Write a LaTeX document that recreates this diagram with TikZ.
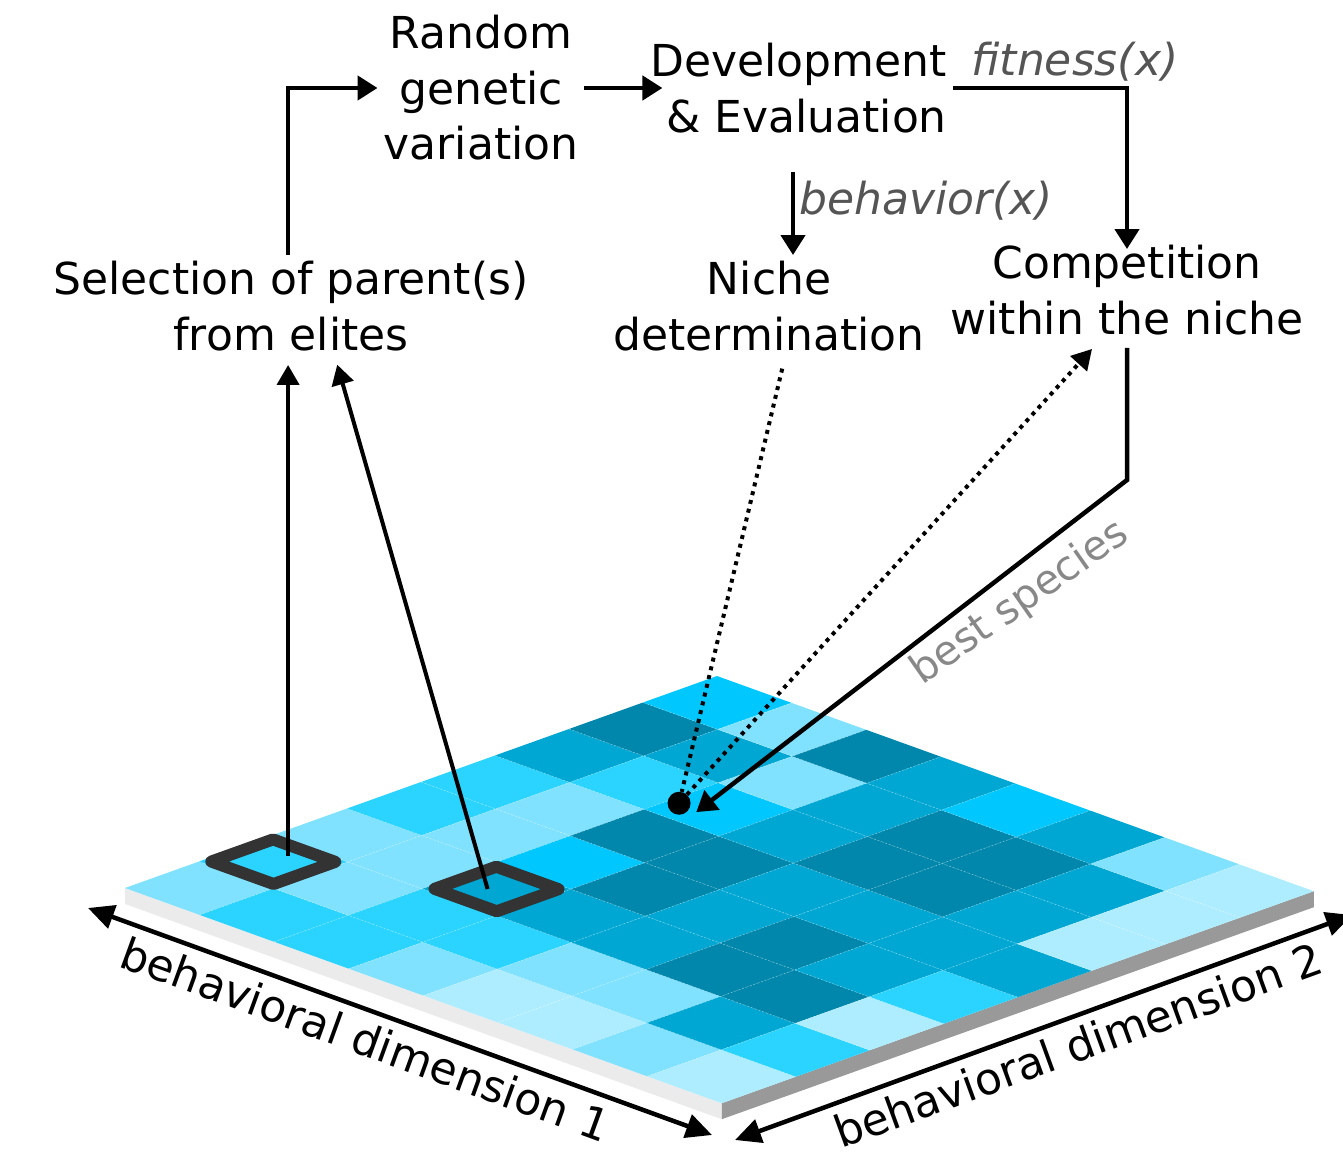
\documentclass[tikz,border=0pt]{standalone}
\usepackage{fontspec}
\setmainfont{DejaVu Sans}
\usetikzlibrary{arrows.meta}

\newcommand{\bigfont}{\fontsize{44}{55.5}\selectfont}
\definecolor{cellA}{HTML}{AEEDFF}
\definecolor{cellB}{HTML}{80E2FF}
\definecolor{cellC}{HTML}{2AD4FF}
\definecolor{cellD}{HTML}{00C8FF}
\definecolor{cellE}{HTML}{00A7D3}
\definecolor{cellF}{HTML}{0087AB}
\definecolor{labelgrey}{HTML}{555555}
\definecolor{bestgrey}{HTML}{888888}
\definecolor{boxgrey}{HTML}{333333}
\definecolor{slableft}{HTML}{EBEBEB}
\definecolor{slabright}{HTML}{999999}

\begin{document}
\begin{tikzpicture}[x=1pt, y=-1pt,
txt/.style = {align=center, inner sep=6pt, font=\bigfont},
lbl/.style = {text=labelgrey, inner sep=4pt, font=\bigfont\itshape},
bestlbl/.style = {text=bestgrey, inner sep=2pt, font=\fontsize{41}{48}\selectfont},
dimlbl/.style = {sloped, below, inner sep=9pt, font=\bigfont},
flow/.style = {line width=4.5pt, -{Triangle[length=20pt,width=24pt]}},
pick/.style = {line width=4pt, -{Triangle[length=20pt,width=22pt]}},
dotline/.style = {line width=4pt, dash pattern=on 4pt off 5pt},
axis/.style = {line width=4.5pt, {Triangle[length=26pt,width=24pt]}-{Triangle[length=26pt,width=24pt]}},
dot/.style = {circle, fill=black, inner sep=0pt, minimum size=23pt},
elitebox/.style = {draw=boxgrey, line width=12pt, line join=round},
gridline/.style = {white, opacity=0.3, line width=0.7pt, dash pattern=on 2pt off 2pt}]
\useasboundingbox (0,0) rectangle (1343,1158);

% the map of elites
\begin{scope}[shift={(125,888)}, x={(74.6pt,-26.9pt)}, y={(74pt,26.5pt)}]
    \fill[slableft] (0,0) -- (8,0) -- ([yshift=-16pt]8,0) -- ([yshift=-16pt]0,0) -- cycle;
    \fill[slabright] (8,0) -- (8,8) -- ([yshift=-16pt]8,8) -- ([yshift=-16pt]8,0) -- cycle;
    \foreach \row [count=\i from 0] in {{B,C,B,C,C,E,F,D},{C,B,B,B,B,C,E,B},
        {C,C,E,D,F,D,B,F},{B,C,E,F,F,E,E,E},{A,B,E,E,E,F,F,D},
        {A,B,F,F,E,F,F,E},{B,E,F,E,E,E,E,B},{A,C,A,C,E,A,A,A}}
        \foreach \c [count=\j from 0] in \row
            \fill[cell\c] (\i,\j) -- ++(1,0) -- ++(0,1) -- ++(-1,0) -- cycle;
    \foreach \k in {1,...,7} {
        \draw[gridline] (\k,0) -- (\k,8);
        \draw[gridline] (0,\k) -- (8,\k);
    }
    \draw[elitebox] (0.0825,1.0825) -- (0.9175,1.0825) -- (0.9175,1.9175) -- (0.0825,1.9175) -- cycle;
    \draw[elitebox] (2.0825,2.0825) -- (2.9175,2.0825) -- (2.9175,2.9175) -- (2.0825,2.9175) -- cycle;
    \coordinate (pick1) at (0.49,1.71);
    \coordinate (pick2) at (2.44,2.44);
    \coordinate (hit) at (2.4,5.3);
    \node[dot] (spot) at (2.12,5.35) {};
\end{scope}

% steps
\node[txt] (rgv) at (481,88) {Random\\genetic\\variation};
\node[txt, align=right, anchor=east] (dev) at (953,88) {Development\\\& Evaluation};
\node[txt] (select) at (291,306) {Selection of parent(s)\\from elites};
\node[txt] (niche) at (769,306) {Niche\\determination};
\node[txt] (compete) at (1127,290) {Competition\\within the niche};

\draw[flow] ([xshift=-3pt]select.north) |- (rgv.west);
\draw[flow] (rgv.east) -- ([xshift=18pt]dev.west);
\draw[flow] (dev.east) -| node[lbl, above, pos=0.35] {fitness(x)} ([yshift=-10pt]compete.north);
\coordinate (behav) at (793,172);
\draw[flow] (behav) -- node[lbl, right, pos=0.34] {behavior(x)} (behav |- niche.north);

\coordinate (bend) at (1127,480);
\draw[flow] ([yshift=-7pt]compete.south) -- (bend) -- (hit);
\node[bestlbl, rotate=35] (best) at (1020,603) {best species};

\draw[dotline, shorten <=12pt] ([xshift=16pt]niche.south) -- (spot);
\draw[dotline, -{Triangle[length=20pt,width=22pt]}] (spot) -- ([xshift=-35pt,yshift=-8pt]compete.south);

\draw[pick, shorten >=8pt] (pick1) -- (pick1 |- select.south);
\draw[pick, shorten >=8pt] (pick2) -- ([xshift=44pt]select.south);

% axes
\coordinate (d1a) at (88,908);
\coordinate (d1b) at (712,1135);
\draw[axis] (d1a) -- node[dimlbl, pos=0.46] {behavioral dimension 1} (d1b);
\coordinate (d2a) at (735,1140);
\coordinate (d2b) at (1352,915);
\draw[axis] (d2a) -- node[dimlbl, pos=0.54] {behavioral dimension 2} (d2b);

\end{tikzpicture}
\end{document}
